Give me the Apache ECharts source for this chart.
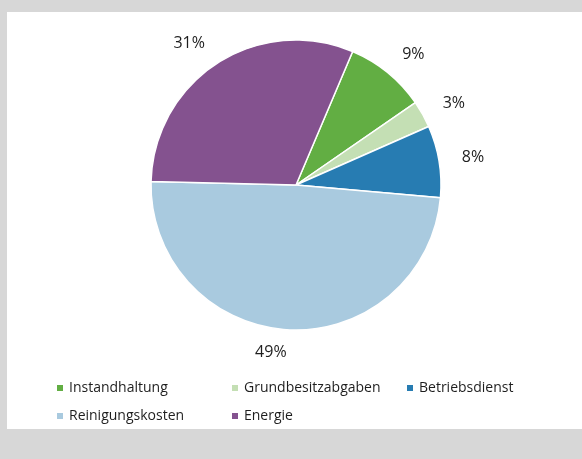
<!DOCTYPE html>
<html>
<head>
<meta charset="utf-8">
<script src="https://cdn.jsdelivr.net/npm/echarts@6/dist/echarts.min.js"></script>
<style>
  html, body { margin: 0; padding: 0; background: #fff; }
  #chart { width: 582px; height: 459px; }
</style>
</head>
<body>
<div id="chart"></div>
<script>
// Kostenanteile in %
const categories = ['Instandhaltung', 'Grundbesitzabgaben', 'Betriebsdienst', 'Reinigungskosten', 'Energie']
const values = [9, 3, 8, 49, 31]

const palette = ['#62ae43', '#c4dfb4', '#277cb2', '#a9cadf', '#84528f']

let chart = echarts.init(document.getElementById('chart'))

let legendCommon = {
  orient: 'vertical',
  top: 381,
  padding: 0,
  itemWidth: 8,
  itemHeight: 8,
  itemGap: 14,
  icon: 'rect',
  selectedMode: false,
  textStyle: { fontFamily: 'Open Sans', fontSize: 14, color: '#1e1e1e' }
}

let option = {
  animation: false,
  backgroundColor: '#fff',
  color: palette,
  graphic: [
    { type: 'rect', shape: { x: 0, y: 0, width: 582, height: 12 }, style: { fill: '#d7d7d7' }, silent: true },
    { type: 'rect', shape: { x: 0, y: 0, width: 7, height: 459 }, style: { fill: '#d7d7d7' }, silent: true },
    { type: 'rect', shape: { x: 0, y: 429, width: 582, height: 30 }, style: { fill: '#d7d7d7' }, silent: true }
  ],
  legend: [
    Object.assign({}, legendCommon, { left: 55, data: [categories[0], categories[3]] }),
    Object.assign({}, legendCommon, { left: 230, data: [categories[1], categories[4]] }),
    Object.assign({}, legendCommon, { left: 405, data: [categories[2]] })
  ],
  series: [
    {
      type: 'pie',
      center: [296, 185],
      radius: 145,
      startAngle: 67,
      clockwise: true,
      avoidLabelOverlap: false,
      itemStyle: { borderColor: '#fff', borderWidth: 1.5 },
      label: {
        show: true,
        position: 'outside',
        formatter: '{c}%',
        fontFamily: 'Open Sans',
        fontSize: 16,
        color: '#1e1e1e',
        distanceToLabelLine: 0
      },
      labelLine: { show: false, length: 23, length2: 0 },
      emphasis: { disabled: true },
      data: categories.map((name, i) => ({ name: name, value: values[i] }))
    }
  ]
}

chart.setOption(option)
</script>
</body>
</html>
